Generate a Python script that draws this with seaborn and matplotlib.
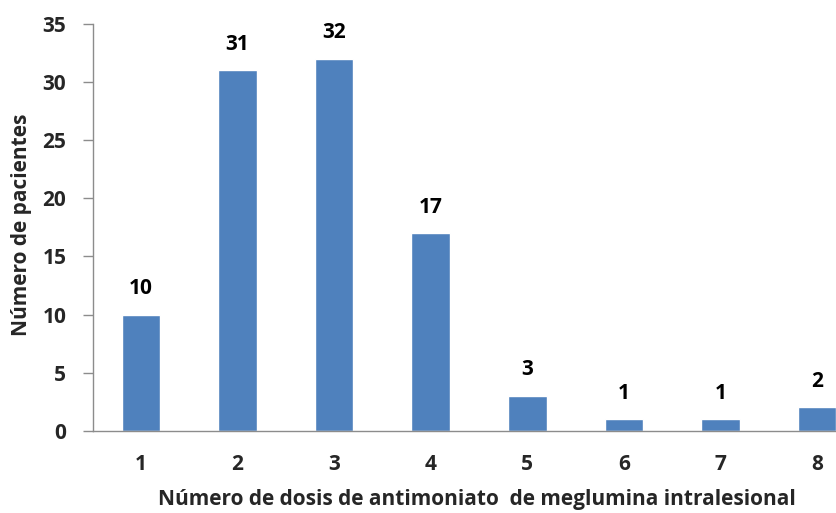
import matplotlib
matplotlib.use("Agg")
import matplotlib.pyplot as plt
import seaborn as sns
import pandas as pd
import numpy as np

dosis = ["1", "2", "3", "4", "5", "6", "7", "8"]
pacientes = [10, 31, 32, 17, 3, 1, 1, 2]

sns.set_style("white")
plt.rcParams["font.family"] = ["Open Sans", "DejaVu Sans"]

df = pd.DataFrame({"dosis": dosis, "pacientes": pacientes})

fig = plt.figure(figsize=(8.36, 5.13), dpi=100)
# the last category runs past the right edge of the figure
ax = fig.add_axes([0.1109, 0.1604, 0.9242, 0.7928])

sns.barplot(data=df, x="dosis", y="pacientes", color="#4F81BD",
            saturation=1, width=0.4, ax=ax)

ax.set_xlim(-0.5, 7.5)
ax.set_ylim(0, 35)
ax.set_yticks(np.arange(0, 36, 5))

# value labels above each bar
for i, v in enumerate(pacientes):
    ax.annotate(str(v), (i, v), xytext=(0, 18.7), textcoords="offset points",
                ha="center", va="center", fontsize=15, fontweight="bold",
                color="#000000")

for s in ["top", "right"]:
    ax.spines[s].set_visible(False)
for s in ["left", "bottom"]:
    ax.spines[s].set_color("#8C8C8C")
    ax.spines[s].set_linewidth(1.0)

# category separators as minor ticks, labels on the (hidden) major ticks
ax.set_xticks(np.arange(-0.5, 8.0, 1.0), minor=True)
ax.tick_params(axis="x", which="major", length=0, pad=17, labelsize=15)
ax.tick_params(axis="x", which="minor", length=6, color="#8C8C8C",
               direction="out", width=1)
ax.tick_params(axis="y", length=7, color="#8C8C8C", direction="out",
               width=1, pad=12, labelsize=15, left=True)
for lab in ax.get_xticklabels() + ax.get_yticklabels():
    lab.set_fontweight("bold")

ax.set_xlabel("Número de dosis de antimoniato  de meglumina intralesional",
              fontsize=15, fontweight="bold", va="center")
ax.xaxis.set_label_coords(0.497, -0.170)
ax.set_ylabel("Número de pacientes", fontsize=15, fontweight="bold",
              va="center")
ax.yaxis.set_label_coords(-0.092, 0.506)

fig.savefig("out.png", dpi=100)
